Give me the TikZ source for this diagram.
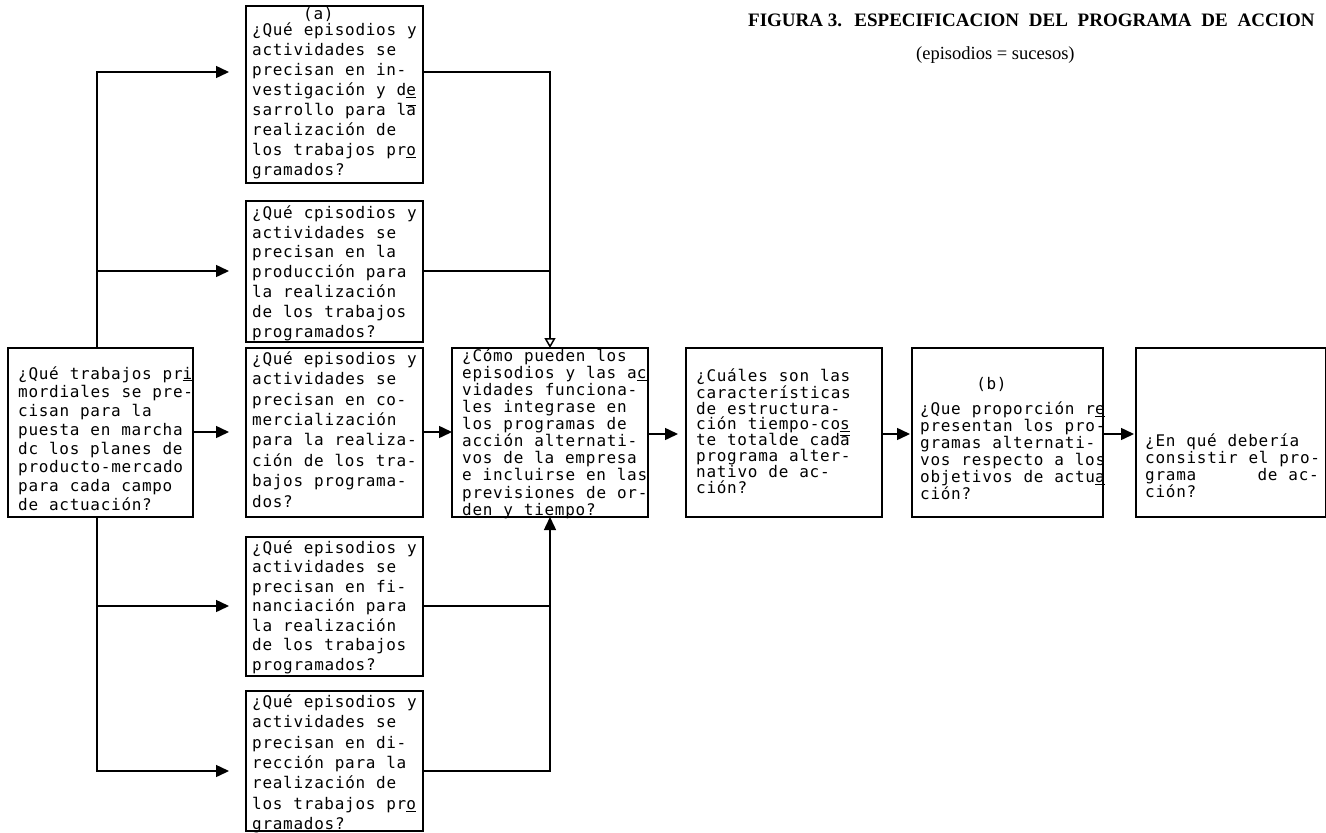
\documentclass[tikz,border=0pt]{standalone}
\usepackage{fontspec}
\usetikzlibrary{arrows.meta}
\newfontfamily\tw[LetterSpace=4.5,WordSpace=1.05]{DejaVu Sans Mono}
\newfontfamily\tserif{Liberation Serif}
\newcommand\uln[1]{\underline{#1}}
\newcommand\ovln[1]{$\overline{\mbox{#1}}$}
\newcommand\fl{\rule{0pt}{13pt}}
\begin{document}
\begin{tikzpicture}[x=1pt,y=-1pt,
  box/.style={draw, line width=1.6pt, anchor=north west, inner sep=0pt, outer sep=0pt},
  txt/.style={font=\tw\fontsize{16}{#1}\selectfont, align=left, anchor=north west, inner sep=0pt},
  ln/.style={line width=1.5pt},
  arr/.style={line width=1.5pt, -{Triangle[length=13pt,width=12pt]}},
  oarr/.style={line width=1.5pt, -{Triangle[open,length=10pt,width=11pt]}}]
\useasboundingbox (0,0) rectangle (1326,833);
% boxes
\node[box, minimum width=185pt, minimum height=169pt] (L) at (8,348) {};
\node[box, minimum width=177pt, minimum height=177pt] (A) at (246,6) {};
\node[box, minimum width=177pt, minimum height=141pt] (P) at (246,201) {};
\node[box, minimum width=177pt, minimum height=169pt] (C) at (246,348) {};
\node[box, minimum width=177pt, minimum height=139pt] (F) at (246,537) {};
\node[box, minimum width=177pt, minimum height=140pt] (D) at (246,691) {};
\node[box, minimum width=196pt, minimum height=169pt] (I) at (452,348) {};
\node[box, minimum width=196pt, minimum height=169pt] (T) at (686,348) {};
\node[box, minimum width=191pt, minimum height=169pt] (B) at (912,348) {};
\node[box, minimum width=190pt, minimum height=169pt] (E) at (1136,348) {};
% texts
\node[txt=18.7] (tL) at (18,366) {\fl¿Qué trabajos pr\uln{i}\\mordiales se pre-\\cisan para la\\puesta en marcha\\dc los planes de\\producto-mercado\\para cada campo\\de actuación?};
\node[txt=20] (tA) at (252,6) {\fl\hphantom{xxxxx}(a)\\[-4pt]¿Qué episodios y\\actividades se\\precisan en in-\\vestigación y d\uln{e}\\sarrollo para l\ovln{a}\\realización de\\los trabajos pr\uln{o}\\gramados?};
\node[txt=19.8] (tP) at (252,205) {\fl¿Qué cpisodios y\\actividades se\\precisan en la\\producción para\\la realización\\de los trabajos\\programados?};
\node[txt=20.4] (tC) at (252,351) {\fl¿Qué episodios y\\actividades se\\precisan en co-\\mercialización\\para la realiza-\\ción de los tra-\\bajos programa-\\dos?};
\node[txt=19.5] (tF) at (252,540) {\fl¿Qué episodios y\\actividades se\\precisan en fi-\\nanciación para\\la realización\\de los trabajos\\programados?};
\node[txt=20.4] (tD) at (252,694) {\fl¿Qué episodios y\\actividades se\\precisan en di-\\rección para la\\realización de\\los trabajos pr\uln{o}\\gramados?};
\node[txt=17.1] (tI) at (462,348) {\fl¿Cómo pueden los\\episodios y las a\uln{c}\\vidades funciona-\\les integrase en\\los programas de\\acción alternati-\\vos de la empresa\\e incluirse en las\\previsiones de or-\\den y tiempo?};
\node[txt=15.9] (tT) at (696,368) {\fl¿Cuáles son las\\características\\de estructura-\\ción tiempo-co\uln{s}\\te totalde cad\ovln{a}\\programa alter-\\nativo de ac-\\ción?};
\node[txt=17] (tB) at (920,376) {\fl\hphantom{xxxxx}\hspace{5pt}(b)\\[8pt]¿Que proporción r\uln{e}\\presentan los pro-\\gramas alternati-\\vos respecto a los\\objetivos de actu\uln{a}\\ción?};
\node[txt=17] (tE) at (1145,433) {\fl¿En qué debería\\consistir el pro-\\grama\hphantom{xxxxxx}de ac-\\ción?};
% title
\node[anchor=base west, inner sep=0pt, font=\tserif\bfseries\fontsize{19}{22}\selectfont] (title) at (748,26) {FIGURA 3.\hspace{6pt} ESPECIFICACION\hspace{5pt} DEL\hspace{5pt} PROGRAMA\hspace{5pt} DE\hspace{5pt} ACCION};
\node[anchor=base west, inner sep=0pt, font=\tserif\fontsize{18.5}{22}\selectfont] (sub) at (916,59) {(episodios = sucesos)};
% coordinates
\coordinate (jl) at (97,0);
\coordinate (ya) at (0,72);
\coordinate (yp) at (0,271);
\coordinate (yc) at (0,432);
\coordinate (yo) at (0,434);
\coordinate (yf) at (0,606);
\coordinate (yd) at (0,771);
% left connectors
\draw[arr, shorten >=17pt] (L.north -| jl) |- (A.west |- ya);
\draw[arr, shorten >=17pt] (jl |- yp) -- (P.west |- yp);
\draw[arr, shorten >=17pt] (L.east |- yc) -- (C.west |- yc);
\draw[arr, shorten >=17pt] (L.south -| jl) |- (D.west |- yd);
\draw[arr, shorten >=17pt] (jl |- yf) -- (F.west |- yf);
% right connectors
\draw[oarr] (A.east |- ya) -| (I.north);
\draw[ln] (P.east |- yp) -- (I.north |- yp);
\draw[arr] (C.east |- yc) -- (I.west |- yc);
\draw[arr] (D.east |- yd) -| (I.south);
\draw[ln] (F.east |- yf) -- (I.south |- yf);
% chain
\draw[arr, shorten >=8pt] (I.east |- yo) -- (T.west |- yo);
\draw[arr, shorten >=2pt] (T.east |- yo) -- (B.west |- yo);
\draw[arr, shorten >=2pt] (B.east |- yo) -- (E.west |- yo);
\end{tikzpicture}
\end{document}
